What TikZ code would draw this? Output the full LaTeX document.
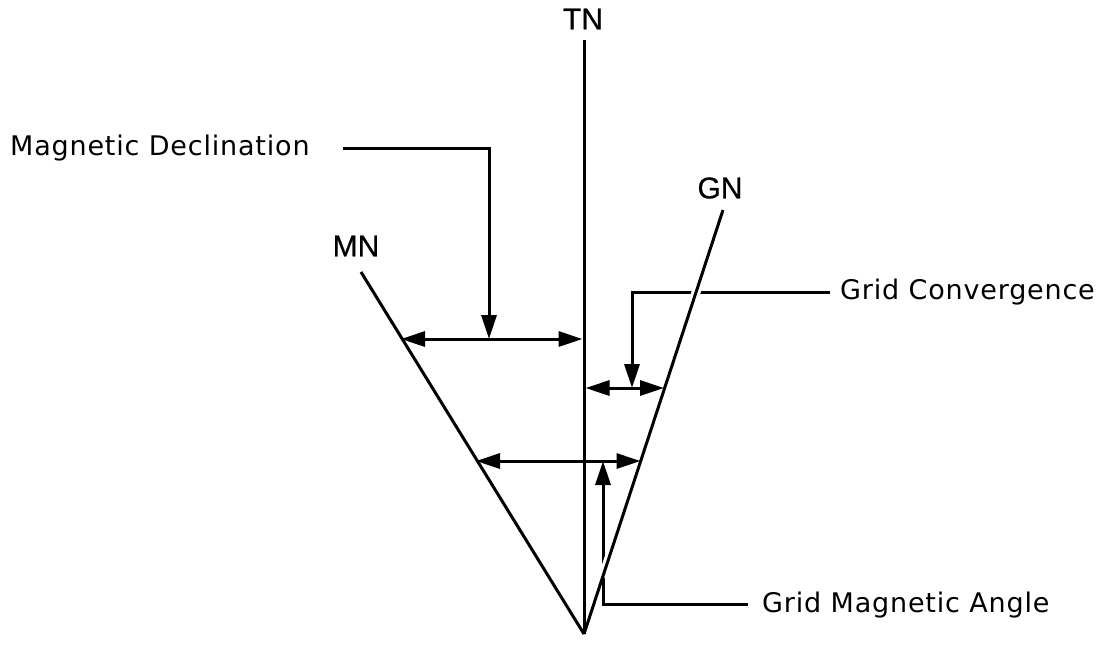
\documentclass[tikz,border=0pt]{standalone}
\usepackage{fontspec}
\setmainfont{DejaVu Sans}[LetterSpace=3]
\newfontfamily\labfont{Liberation Sans}[FakeBold=0.6]
\usetikzlibrary{arrows.meta,calc}
\begin{document}
\begin{tikzpicture}[x=1pt,y=-1pt,
  ln/.style={line width=3pt},
  tip/.style={-{Triangle[length=24pt,width=15pt]}},
  dtip/.style={{Triangle[length=24pt,width=15pt]}-{Triangle[length=24pt,width=15pt]}},
  dirlab/.style={font=\labfont\fontsize{30}{34}\selectfont, inner sep=0pt},
  txt/.style={font=\fontsize{27}{31}\selectfont, inner sep=0pt, anchor=west}]
\useasboundingbox[fill=white] (0,0) rectangle (1104,657);
% main coordinates
\coordinate (V) at (584,634);
\coordinate (TNtop) at (584,40);
\coordinate (MNtop) at (361,272);
\coordinate (GNtop) at (723,210);
% labels
\node[dirlab] (TN) at (583,19) {TN};
\node[dirlab] (MN) at (356,246) {MN};
\node[dirlab] (GN) at (720,188) {GN};
\node[txt] (MD) at (10,148) {Magnetic Declination};
\node[txt] (GC) at (840,292) {Grid Convergence};
\node[txt] (GMA) at (762,605) {Grid Magnetic Angle};
% leader corner coordinates
\coordinate (MDs) at (343,148);
\coordinate (MDc) at (489,148);
\coordinate (MDe) at (489,339);
\coordinate (GCs) at (830,292);
\coordinate (GCc) at (632,292);
\coordinate (GCe) at (632,388);
\coordinate (GMAs) at (748,604);
\coordinate (GMAc) at (603,604);
\coordinate (GMAe) at (603,461);
% leaders
\draw[ln,tip] (MDs) -- (MDc) -- (MDe);
\draw[ln,tip] (GCs) -- (GCc) -- (GCe);
\draw[ln,tip] (GMAs) -- (GMAc) -- (GMAe);
% grid north with white halo over the leaders it crosses
\draw[white,line width=9pt,shorten <=60pt] (V) -- (GNtop);
\draw[ln] (V) -- (GNtop);
\draw[ln] (V) -- (TNtop);
\draw[ln] (V) -- (MNtop);
% measured angles
\coordinate (DLa) at (401,339);
\coordinate (DLb) at (582.5,339);
\coordinate (CVa) at (585.5,388);
\coordinate (CVb) at (664,388);
\coordinate (GAa) at (476,461);
\coordinate (GAb) at (640.5,461);
\draw[ln,dtip] (DLa) -- (DLb);
\draw[ln,dtip] (CVa) -- (CVb);
\draw[ln,dtip] (GAa) -- (GAb);
\end{tikzpicture}
\end{document}
